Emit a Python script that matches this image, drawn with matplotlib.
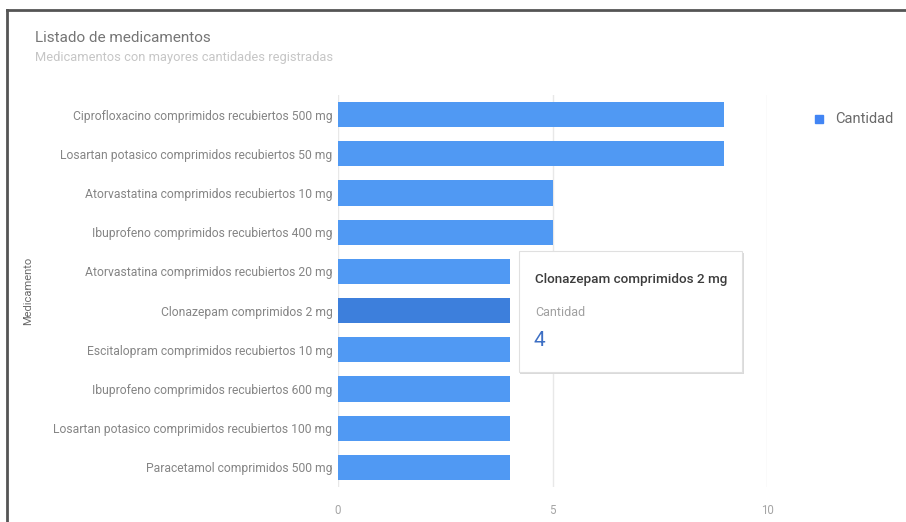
import matplotlib.pyplot as plt
from matplotlib.patches import Rectangle
from matplotlib.lines import Line2D

plt.rcParams['font.family'] = ['Roboto', 'DejaVu Sans']

medicamentos = [
    'Ciprofloxacino comprimidos recubiertos 500 mg',
    'Losartan potasico comprimidos recubiertos 50 mg',
    'Atorvastatina comprimidos recubiertos 10 mg',
    'Ibuprofeno comprimidos recubiertos 400 mg',
    'Atorvastatina comprimidos recubiertos 20 mg',
    'Clonazepam comprimidos 2 mg',
    'Escitalopram comprimidos recubiertos 10 mg',
    'Ibuprofeno comprimidos recubiertos 600 mg',
    'Losartan potasico comprimidos recubiertos 100 mg',
    'Paracetamol comprimidos 500 mg',
]
cantidad = [9, 9, 5, 5, 4, 4, 4, 4, 4, 4]
x_ticks = [0, 5, 10]
resaltado = 'Clonazepam comprimidos 2 mg'

azul = '#5099f3'
azul_osc = '#3d7fdc'

fig = plt.figure(figsize=(9.06, 5.22), dpi=100)
ax = fig.add_axes([338/906, 1 - 487/522, (767-338)/906, (487-95)/522])

colores = [azul_osc if m == resaltado else azul for m in medicamentos]
ax.barh(range(len(medicamentos)), cantidad, height=0.64, color=colores, zorder=3)
ax.set_ylim(len(medicamentos) - 0.5, -0.5)
ax.set_xlim(0, 10)
ax.set_yticks(range(len(medicamentos)))
ax.set_yticklabels(medicamentos, fontsize=8.7, color='#858585')
ax.set_xticks(x_ticks)
ax.set_xticklabels([str(t) for t in x_ticks], fontsize=8.3, color='#a5a5a5')
ax.tick_params(length=0, pad=4)
ax.tick_params(axis='x', pad=12)
for s in ax.spines.values():
    s.set_visible(False)
for t in x_ticks:
    ax.axvline(t, color='#e8e8e8', lw=1, zorder=1)
ax.set_ylabel('Medicamento', fontsize=8, color='#6a6a6a', labelpad=0)
ax.yaxis.set_label_coords(-(338-33)/(767-338), 0.5)

# titulos
fig.text(35/906, 1 - 38/522, 'Listado de medicamentos', fontsize=11,
         color='#757575', va='center', ha='left')
fig.text(35/906, 1 - 57/522, 'Medicamentos con mayores cantidades registradas',
         fontsize=9.3, color='#c6c6c6', va='center', ha='left')

# leyenda
fig.patches.append(Rectangle((815/906, 1 - 123/522), 8/906, 8/522,
                             transform=fig.transFigure, color='#4285f4'))
fig.text(835/906, 1 - 119/522, 'Cantidad', fontsize=10.5, color='#6a6a6a',
         va='center', ha='left')

# tooltip
x0, y0, w, h = 519, 251, 223, 121
fig.patches.append(Rectangle(((x0 + 1)/906, 1 - (y0 + h + 2)/522), (w + 1)/906, h/522,
                             transform=fig.transFigure, facecolor='#dadada',
                             edgecolor='none', zorder=5))
fig.patches.append(Rectangle((x0/906, 1 - (y0 + h)/522), w/906, h/522,
                             transform=fig.transFigure, facecolor='white',
                             edgecolor='#e0e0e0', lw=0.8, zorder=6))
fig.text(535/906, 1 - 280/522, resaltado, fontsize=9.7, color='#3c3c3c',
         va='center', ha='left', fontweight='medium', zorder=7)
fig.text(535/906, 1 - 312/522, 'Cantidad', fontsize=9, color='#a0a0a0',
         va='center', ha='left', zorder=7)
fig.text(534/906, 1 - 340/522, str(cantidad[medicamentos.index(resaltado)]),
         fontsize=15, color='#3d6fc4', va='center', ha='left', zorder=7)

# marco
fig.add_artist(Line2D([7/906, 7/906], [0, 1 - 10/522], transform=fig.transFigure,
                      color='#555555', lw=2))
fig.add_artist(Line2D([7/906, 1], [1 - 10/522, 1 - 10/522], transform=fig.transFigure,
                      color='#555555', lw=2))

fig.savefig('out.png', dpi=100)
